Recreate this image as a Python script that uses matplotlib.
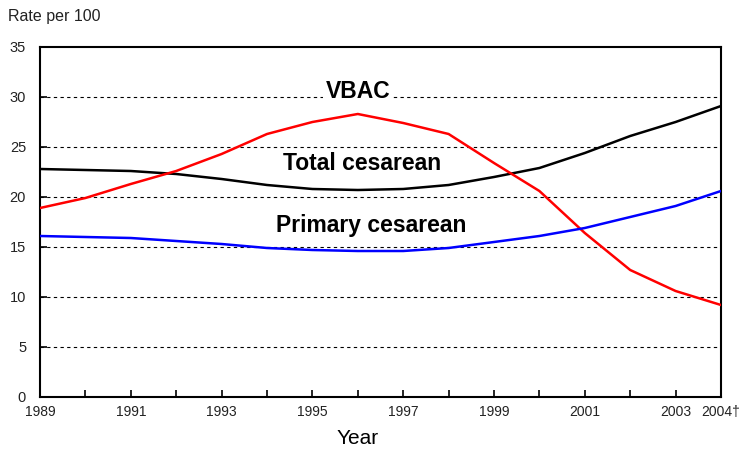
import matplotlib
matplotlib.use("Agg")
import matplotlib.pyplot as plt

years = list(range(1989, 2005))
total_cesarean = [22.8, 22.7, 22.6, 22.3, 21.8, 21.2, 20.8, 20.7, 20.8, 21.2, 22.0, 22.9, 24.4, 26.1, 27.5, 29.1]
vbac = [18.9, 19.9, 21.3, 22.6, 24.3, 26.3, 27.5, 28.3, 27.4, 26.3, 23.4, 20.6, 16.4, 12.7, 10.6, 9.2]
primary_cesarean = [16.1, 16.0, 15.9, 15.6, 15.3, 14.9, 14.7, 14.6, 14.6, 14.9, 15.5, 16.1, 16.9, 18.0, 19.1, 20.6]
x_tick_labels = ["1989", "1991", "1993", "1995", "1997", "1999", "2001", "2003", "2004\u2020"]
x_tick_pos = [1989, 1991, 1993, 1995, 1997, 1999, 2001, 2003, 2004]

plt.rcParams['font.family'] = ['Liberation Sans', 'DejaVu Sans']

fig = plt.figure(figsize=(7.45, 4.49), dpi=100)
ax = fig.add_axes([40/745, 1 - 397/449, (721-40)/745, (397-47)/449])

ax.plot(years, total_cesarean, color='black', lw=1.8, zorder=3)
ax.plot(years, vbac, color='#ff0000', lw=1.8, zorder=3)
ax.plot(years, primary_cesarean, color='#0000ff', lw=1.8, zorder=3)

ax.set_xlim(1989, 2004)
ax.set_ylim(0, 35)
ax.set_yticks(range(0, 36, 5))
for yv in range(5, 35, 5):
    ax.axhline(yv, color='black', lw=0.8, ls=(0, (3, 3)), zorder=1)

ax.set_xticks(years)
ax.set_xticklabels([""] * len(years))
ax.tick_params(axis='x', direction='in', length=5, width=1.2, colors='black')
ax.tick_params(axis='y', direction='in', length=5, width=1.2, pad=10, labelsize=10.5, labelcolor='#222222')
for xp, lab in zip(x_tick_pos, x_tick_labels):
    ax.text(xp, -1.5, lab, ha='center', va='center', fontsize=10, color='#222222', clip_on=False)

for s in ax.spines.values():
    s.set_linewidth(1.5)
    s.set_color('black')

fig.text(8/745, 1 - 17/449, "Rate per 100", fontsize=11.5, va='center', ha='left', color='#222222')
fig.text(358/745, 1 - 438/449, "Year", fontsize=15, ha='center', va='center')

bbox = dict(facecolor='white', edgecolor='none', pad=2)
ax.text(1996.0, 30.5, "VBAC", fontsize=16.5, fontweight='bold', ha='center', va='center', bbox=bbox, zorder=2)
ax.text(1996.1, 23.3, "Total cesarean", fontsize=16.5, fontweight='bold', ha='center', va='center', bbox=bbox, zorder=2)
ax.text(1996.3, 17.1, "Primary cesarean", fontsize=16.5, fontweight='bold', ha='center', va='center', bbox=bbox, zorder=2)

fig.savefig("out.png", dpi=100)
